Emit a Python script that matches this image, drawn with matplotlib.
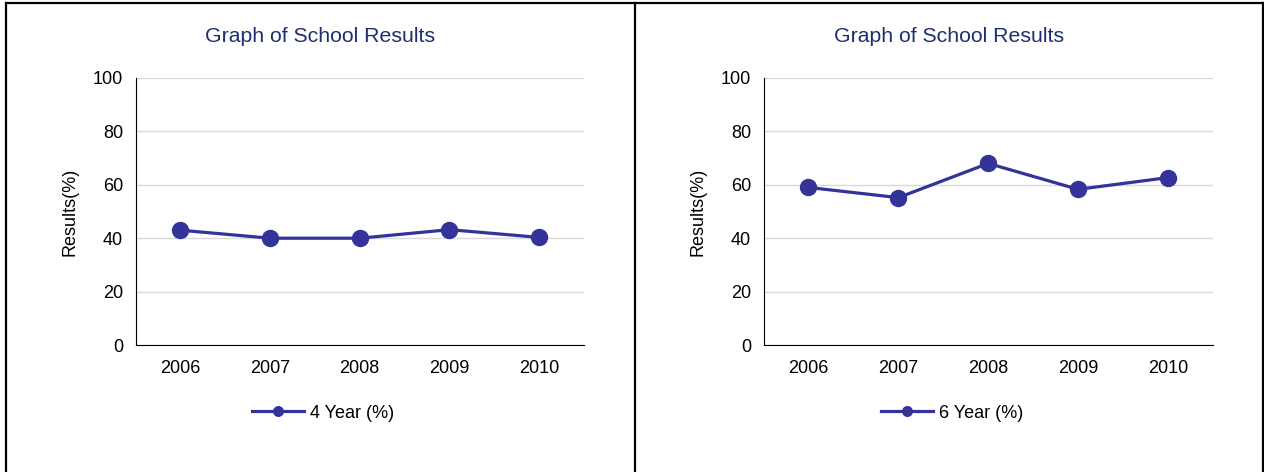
import matplotlib
matplotlib.use("Agg")
import matplotlib.pyplot as plt
from matplotlib.lines import Line2D

plt.rcParams['font.family'] = ['Liberation Sans', 'DejaVu Sans']

# data
years = ['2006', '2007', '2008', '2009', '2010']
four_year = [43, 40, 40, 43.2, 40.3]
six_year = [59, 55.2, 68, 58.3, 62.7]

LINE_COLOR = '#333399'
TITLE_COLOR = '#1F2F6E'
W, H = 1264, 472

fig = plt.figure(figsize=(W / 100, H / 100), dpi=100)


def px_axes(x0, x1, y0, y1):
    # pixel box (top-left origin) -> figure fraction
    return fig.add_axes([x0 / W, 1 - y1 / H, (x1 - x0) / W, (y1 - y0) / H])


def draw_panel(x0, x1, panel_cx, values, label):
    ax = px_axes(x0, x1, 78, 345)
    xs = range(len(years))
    ax.plot(xs, values, color=LINE_COLOR, lw=2.3, marker='o', ms=11.5,
            label=label, zorder=3)
    ax.set_xlim(-0.5, len(years) - 0.5)
    ax.set_ylim(0, 100)
    ax.set_yticks(range(0, 101, 20))
    ax.set_xticks(list(xs))
    ax.set_xticklabels(years)
    ax.grid(axis='y', color='#D9D9D9', lw=1)
    ax.set_axisbelow(True)
    for s in ('top', 'right'):
        ax.spines[s].set_visible(False)
    for s in ('left', 'bottom'):
        ax.spines[s].set_color('#000000')
        ax.spines[s].set_linewidth(0.8)
    ax.tick_params(length=0, labelsize=13, colors='#000000')
    ax.tick_params(axis='y', pad=9)
    ax.tick_params(axis='x', pad=11)
    ax.set_ylabel('Results(%)', fontsize=13, labelpad=10)

    # title and legend sit centred on the whole panel, not the axes
    cx = panel_cx / W
    fig.text(cx, 1 - 37 / H, 'Graph of School Results', color=TITLE_COLOR,
             fontsize=15.3, ha='center', va='center')
    ax.legend(loc='center', bbox_to_anchor=(cx + 3 / W, 1 - 413 / H),
              bbox_transform=fig.transFigure, frameon=False, fontsize=13,
              markerscale=0.6, handlelength=2.9, handletextpad=0.35)
    return ax


draw_panel(135.5, 584, 320, four_year, '4 Year (%)')
draw_panel(763.5, 1213, 949, six_year, '6 Year (%)')

# outer frame and divider
for xs_, ys_ in [((6, 1263), (3, 3)), ((6, 6), (3, 472)),
                 ((1263, 1263), (3, 472)), ((635, 635), (3, 472))]:
    fig.add_artist(Line2D([x / W for x in xs_], [1 - y / H for y in ys_],
                          color='black', lw=1.6, transform=fig.transFigure))

fig.savefig('out.png', dpi=100, facecolor='white')
